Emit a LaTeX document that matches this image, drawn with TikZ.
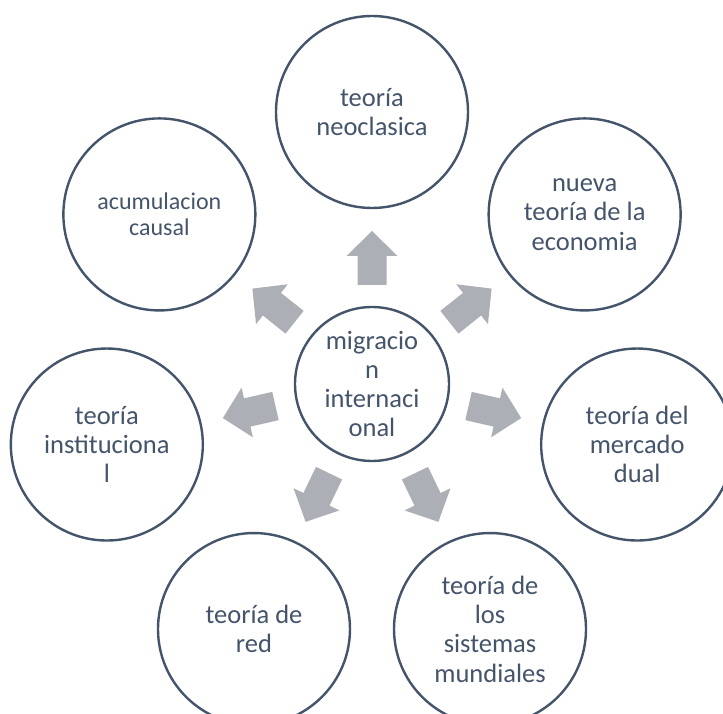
\documentclass[tikz,border=0pt]{standalone}
\usepackage{fontspec}
\setmainfont{Carlito}
\usetikzlibrary{calc}
\definecolor{txt}{HTML}{44546A}
\definecolor{arrgray}{RGB}{173,175,182}
\begin{document}
\begin{tikzpicture}[x=1pt,y=1pt,
  bub/.style={circle, draw=txt, line width=2.4pt, fill=white, minimum size=192pt, inner sep=0pt, text=txt, align=center, font=\fontsize{26.5}{29.3}\selectfont},
  hub/.style={bub, minimum size=154pt},
  small/.style={font=\fontsize{24}{26.5}\selectfont},
  blockarr/.style={fill=arrgray, draw=none}]
\useasboundingbox (0,0) rectangle (723,713);
\clip (0,0) rectangle (723,713);
\node[hub] (mig) at (372,329) {migracio\\n\\internaci\\onal};
\node[bub] (neo) at ($(mig.center)+(90:272)$) {teoría\\neoclasica};
\node[bub] (nue) at ($(mig.center)+(38.571:272)$) {nueva\\teoría de la\\economia};
\node[bub] (mer) at ($(mig.center)+(-12.857:272)$) {teoría del\\mercado\\dual};
\node[bub] (sis) at ($(mig.center)+(-64.286:272)$) {teoría de\\los\\sistemas\\mundiales};
\node[bub] (red) at ($(mig.center)+(-115.714:272)$) {teoría de\\red};
\node[bub] (ins) at ($(mig.center)+(-167.143:272)$) {teoría\\instituciona\\l};
\node[bub,small] (acu) at ($(mig.center)+(141.429:272)$) {acumulacion\\causal};
\foreach \a in {90,38.571,-12.857,-64.286,-115.714,-167.143,141.429}{
  \fill[blockarr, shift={(mig.center)}, rotate=\a]
    (99,-14.5) -- (128,-14.5) -- (128,-25.5) -- (153,0) -- (128,25.5) -- (128,14.5) -- (99,14.5) -- cycle;
}
\end{tikzpicture}
\end{document}
